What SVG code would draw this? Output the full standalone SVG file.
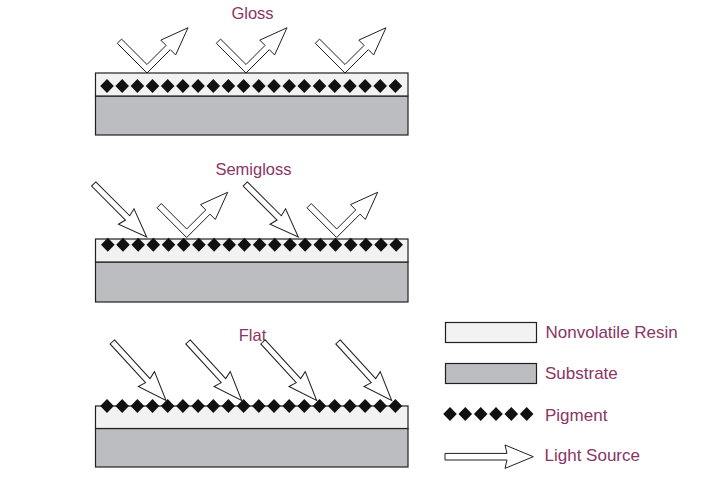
<svg xmlns="http://www.w3.org/2000/svg" xmlns:xlink="http://www.w3.org/1999/xlink" width="710" height="481" viewBox="0 0 710 481">
<style>
.resin{fill:#f2f2f2;stroke:#231f20;stroke-width:1.2}
.sub{fill:#bcbdc0;stroke:#231f20;stroke-width:1.2}
.arr{fill:#ffffff;stroke:#231f20;stroke-width:1;stroke-linejoin:miter}
.dia{fill:#111111}
.lbl{font-family:"Liberation Sans",Arial,sans-serif;font-size:17px;fill:#8a3565}
.ttl{text-anchor:middle;font-size:16.5px}
</style>
<defs>
<path id="dia" class="dia" d="M0,-7 L6.8,0 L0,7 L-6.8,0 Z"/>
<g id="row">
<use href="#dia" x="107"/><use href="#dia" x="122.2"/><use href="#dia" x="137.4"/><use href="#dia" x="152.5"/><use href="#dia" x="167.7"/>
<use href="#dia" x="182.9"/><use href="#dia" x="198.1"/><use href="#dia" x="213.3"/><use href="#dia" x="228.4"/><use href="#dia" x="243.6"/>
<use href="#dia" x="258.8"/><use href="#dia" x="274"/><use href="#dia" x="289.2"/><use href="#dia" x="304.3"/><use href="#dia" x="319.5"/>
<use href="#dia" x="334.7"/><use href="#dia" x="349.9"/><use href="#dia" x="365.1"/><use href="#dia" x="380.2"/><use href="#dia" x="395.4"/>
</g>
<path id="vArrow" class="arr" d="M0,0 L-29.7,-29.7 L-25.46,-33.94 L0,-8.49 L19.09,-27.58 L13.79,-32.88 L41.01,-45.25 L28.63,-18.04 L23.33,-23.33 Z"/>
<path id="inArrowS" class="arr" d="M-75,-3 L-27,-3 L-29,-11 L0,0 L-29,11 L-27,3 L-75,3 Z"/>
<path id="inArrowF" class="arr" d="M-79.5,-3 L-27,-3 L-29,-11 L0,0 L-29,11 L-27,3 L-79.5,3 Z"/>
</defs>

<g id="gloss">
<text class="lbl ttl" x="252.5" y="19">Gloss</text>
<rect class="sub" x="95.5" y="96" width="312.5" height="39"/>
<rect class="resin" x="95.5" y="73" width="312.5" height="23"/>
<use href="#row" y="86"/>
</g>

<g id="semigloss">
<text class="lbl ttl" x="253.5" y="174.5">Semigloss</text>
<rect class="sub" x="95.5" y="262" width="312.5" height="40"/>
<rect class="resin" x="95.5" y="239" width="312.5" height="23"/>
<use href="#row" x="0.8" y="244.7"/>
</g>

<g id="flat">
<text class="lbl ttl" x="252.5" y="340.5">Flat</text>
<rect class="sub" x="95.5" y="428.5" width="312.5" height="38.5"/>
<rect class="resin" x="95.5" y="406" width="312.5" height="22.5"/>
<use href="#row" y="406"/>
</g>

<g id="connectors">
<use href="#vArrow" transform="translate(147,73)"/>
<use href="#vArrow" transform="translate(246,73)"/>
<use href="#vArrow" transform="translate(345,73)"/>
<use href="#inArrowS" transform="translate(146.7,237) rotate(45)"/>
<use href="#vArrow" transform="translate(186.7,237.5)"/>
<use href="#inArrowS" transform="translate(298.3,237) rotate(45)"/>
<use href="#vArrow" transform="translate(336.7,237.5)"/>
<use href="#inArrowF" transform="translate(166,400.5) rotate(47.5)"/>
<use href="#inArrowF" transform="translate(241.7,400.5) rotate(47.5)"/>
<use href="#inArrowF" transform="translate(316.7,400.5) rotate(47.5)"/>
<use href="#inArrowF" transform="translate(391.7,400.5) rotate(47.5)"/>
</g>

<g id="legend">
<g id="legend-resin">
<rect class="resin" x="445.5" y="322.5" width="91" height="20"/>
<text class="lbl" x="545.5" y="337.5">Nonvolatile Resin</text>
</g>
<g id="legend-substrate">
<rect class="sub" x="445.5" y="363.5" width="91" height="20"/>
<text class="lbl" x="545" y="379">Substrate</text>
</g>
<g id="legend-pigment">
<use href="#dia" x="450" y="414"/><use href="#dia" x="465.3" y="414"/><use href="#dia" x="480.7" y="414"/>
<use href="#dia" x="496" y="414"/><use href="#dia" x="511.3" y="414"/><use href="#dia" x="526.7" y="414"/>
<text class="lbl" x="545" y="420.5">Pigment</text>
</g>
<g id="legend-light">
<path class="arr" d="M445,453.4 L507,453.4 L505,445 L533.3,456.7 L505,468.4 L507,460 L445,460 Z"/>
<text class="lbl" x="544.5" y="461">Light Source</text>
</g>
</g>
</svg>
